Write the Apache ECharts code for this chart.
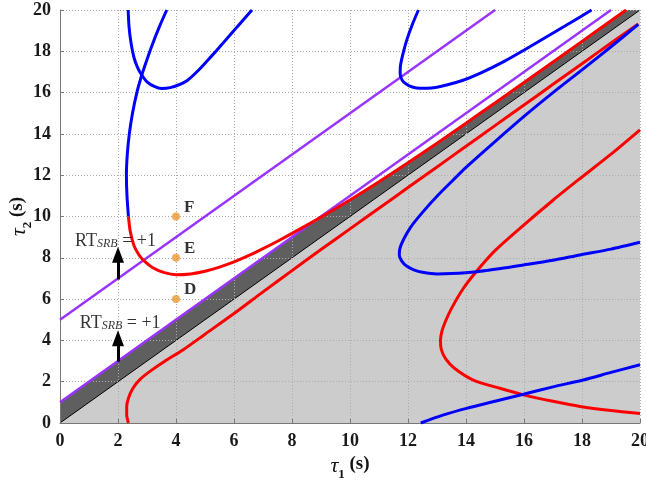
<!DOCTYPE html>
<html><head><meta charset="utf-8">
<script src="https://cdn.jsdelivr.net/npm/echarts@6/dist/echarts.min.js"></script>
<style>html,body{margin:0;padding:0;background:#fff}#c{width:646px;height:480px}</style>
</head><body><div id="c"></div>
<script>
// ---------- data (tau1, tau2) ----------
const xTickValues = [0,2,4,6,8,10,12,14,16,18,20];
const yTickValues = [0,2,4,6,8,10,12,14,16,18,20];
const blueCurveA = [[2.35,20],[2.38,19.2],[2.45,18.4],[2.55,17.7],[2.68,17.2],[2.82,16.85],[3.0,16.52],[3.25,16.3],[3.5,16.2],[3.8,16.24],[4.1,16.38],[4.4,16.6],[4.8,17.12],[5.2,17.73],[5.6,18.36],[6.1,19.17],[6.62,20]];
const blueCurveB = [[3.68,20],[3.4,19.1],[3.15,18.2],[2.95,17.4],[2.82,16.85],[2.65,16.0],[2.5,15],[2.39,14],[2.32,13],[2.29,12],[2.31,11],[2.36,10]];
const redCurveU = [[2.36,10],[2.42,9.3],[2.55,8.6],[2.72,8.15],[2.9,7.85],[3.2,7.52],[3.6,7.28],[4.0,7.18],[4.5,7.22],[5.0,7.35],[5.5,7.55],[6.0,7.8],[6.5,8.1],[7.0,8.44],[7.5,8.8],[8.0,9.18],[8.5,9.57],[9.0,9.97],[10,10.8],[11,11.68],[12,12.6],[13,13.55],[14,14.52],[15,15.5],[16,16.49],[17,17.48],[18,18.48],[19,19.48],[19.52,20]];
const redCurveLow = [[2.36,0],[2.3,0.4],[2.3,0.8],[2.36,1.2],[2.5,1.65],[2.75,2.1],[3.1,2.5],[3.6,2.98],[4.25,3.55],[5.0,4.3],[6.0,5.3],[7.0,6.35],[8.0,7.38],[9.0,8.4],[10,9.4],[11,10.4],[12,11.4],[13,12.4],[14,13.4],[15,14.4],[16,15.4],[17,16.4],[18,17.4],[19,18.4],[19.94,19.32]];
const blueCurveTopRight = [[12.36,20],[12.15,19.3],[11.97,18.6],[11.83,17.9],[11.74,17.3],[11.73,16.9],[11.8,16.6],[11.95,16.4],[12.15,16.27],[12.41,16.21],[12.8,16.22],[13.33,16.37],[13.9,16.6],[14.48,16.93],[15.3,17.5],[16.2,18.22],[16.9,18.8],[17.6,19.38],[18.33,20]];
const blueCurveD = [[19.94,19.3],[19,18.22],[18,17.1],[17,16.0],[16,14.85],[15,13.63],[14,12.38],[13.56,11.77],[13.0,10.98],[12.5,10.2],[12.1,9.5],[11.85,8.9],[11.72,8.45],[11.7,8.14],[11.78,7.85],[11.95,7.6],[12.2,7.42],[12.5,7.3],[13.0,7.22],[13.5,7.24],[14.37,7.33],[15.2,7.48],[15.98,7.65],[17,7.88],[17.93,8.14],[19,8.42],[20,8.75]];
const redCurveE = [[20,14.2],[19,13.02],[17.87,11.77],[17.01,10.8],[15.86,9.43],[15,8.35],[14.37,7.36],[13.9,6.5],[13.5,5.55],[13.3,4.95],[13.17,4.45],[13.12,4.0],[13.15,3.55],[13.3,3.1],[13.6,2.65],[14.25,2.08],[15.17,1.68],[15.98,1.36],[17,1.05],[17.93,0.8],[19,0.6],[20,0.46]];
const blueCurveF = [[12.44,0],[13.2,0.38],[14.02,0.71],[15.0,1.05],[15.98,1.39],[17,1.75],[18.04,2.08],[19,2.45],[20,2.82]];
const purpleUpper = [[0,5],[15,20]];
const purpleLower = [[0,1],[19,20]];
const diagonalLine = [[0,0],[20,20]];
const pointLabels = ['D','E','F'];
const pointTau1 = [4,4,4];
const pointTau2 = [6,8,10];

// ---------- derived: dark band upper edge = min(purpleLower, redCurveU) ----------
function purpleAt(x){ const a=purpleLower[0], b=purpleLower[1]; return a[1]+(b[1]-a[1])*(x-a[0])/(b[0]-a[0]); }
const darkEdge = [purpleLower[0]];
for (let i=1;i<redCurveU.length;i++){
  const p=redCurveU[i-1], q=redCurveU[i];
  const dp=p[1]-purpleAt(p[0]), dq=q[1]-purpleAt(q[0]);
  if (p[0]>5 && dp>=0 && dq<0){ const t=dp/(dp-dq); darkEdge.push([p[0]+t*(q[0]-p[0]), p[1]+t*(q[1]-p[1])]); }
  if (q[0]>5 && dq<0) darkEdge.push(q);
}
darkEdge.push([20,20]);

const SERIF = '"Liberation Serif","DejaVu Serif","Times New Roman",serif';
const BLUE='#0000FF', RED='#FF0000', PURPLE='#9933FF', ORANGE='#EE9933';

function curve(data,color,width,z){
  return {type:'line',data:data,showSymbol:false,symbol:'none',smooth:0.25,z:z||4,
    lineStyle:{color:color,width:width},silent:true,animation:false};
}
const rtRich = {
  a:{fontFamily:SERIF,fontSize:18,color:'#000',lineHeight:20,verticalAlign:'bottom'},
  b:{fontFamily:SERIF,fontSize:12,fontStyle:'italic',color:'#000',lineHeight:12,verticalAlign:'bottom'}
};
const nameRich = {
  t:{fontFamily:SERIF,fontSize:22,fontStyle:'italic',color:'#111',lineHeight:22,verticalAlign:'top'},
  s:{fontFamily:SERIF,fontSize:13,fontWeight:'bold',color:'#111',lineHeight:14,padding:[13,0,0,0],verticalAlign:'top'},
  n:{fontFamily:SERIF,fontSize:19,fontWeight:'bold',color:'#111',lineHeight:22,verticalAlign:'top'}
};
function axisCfg(ticks, nameText, nameGap, moveOverlap){
  return {type:'value',min:ticks[0],max:ticks[ticks.length-1],interval:ticks[1]-ticks[0],z:3,
    name:nameText,nameLocation:'middle',nameGap:nameGap,nameMoveOverlap:moveOverlap,nameTextStyle:{rich:nameRich},
    axisLine:{show:true,onZero:false,lineStyle:{color:'#777',width:1}},
    axisTick:{show:true,inside:true,length:4,lineStyle:{color:'#777'}},
    axisLabel:{fontFamily:SERIF,fontWeight:'bold',fontSize:18,color:'#1a1a1a',margin:9},
    splitLine:{show:true,lineStyle:{color:'#aaa',width:1,type:[1,2]}}};
}

const chart = echarts.init(document.getElementById('c'), null, {renderer:'canvas'});
chart.setOption({
  animation:false,
  backgroundColor:'#fff',
  grid:{left:60,right:6,top:10,bottom:57,containLabel:false,outerBoundsMode:'none'},
  xAxis:axisCfg(xTickValues,'{t|τ}{s|1}{n| (s)}',28,true),
  yAxis:axisCfg(yTickValues,'{t|τ}{s|2}{n| (s)}',30,false),
  series:[
    {type:'line',data:darkEdge,showSymbol:false,symbol:'none',z:1,silent:true,
     lineStyle:{width:0},areaStyle:{color:'#5f5f5f',opacity:1}},
    {type:'line',data:diagonalLine,showSymbol:false,symbol:'none',z:2,silent:true,
     lineStyle:{width:1,color:'#000'},areaStyle:{color:'#cccccc',opacity:1}},
    curve(purpleUpper,PURPLE,2.5,4),
    curve(purpleLower,PURPLE,2.5,4),
    curve(redCurveLow,RED,3,4),
    curve(redCurveE,RED,3,4),
    curve(redCurveU,RED,3,4),
    curve(blueCurveD,BLUE,3,5),
    curve(blueCurveF,BLUE,3,5),
    curve(blueCurveA,BLUE,3,5),
    curve(blueCurveB,BLUE,3,5),
    curve(blueCurveTopRight,BLUE,3,5),
    {type:'scatter',z:6,silent:true,symbol:'circle',symbolSize:8,itemStyle:{color:ORANGE},
     data:pointLabels.map((n,i)=>({value:[pointTau1[i],pointTau2[i]],name:n})),
     label:{show:true,position:'right',distance:4,offset:[0,-9],formatter:p=>p.name,
       fontFamily:SERIF,fontWeight:'bold',fontSize:17,color:'#000'}},
    {type:'scatter',z:6,silent:true,symbolSize:0,
     data:[[0.52,8.86],[0.68,4.9]],
     label:{show:true,position:'right',distance:0,formatter:'{a|RT}{b|SRB}{a| = +1}',rich:rtRich}},
    {type:'line',data:[],z:6,silent:true,
     markLine:{silent:true,animation:false,symbol:['none','triangle'],symbolSize:[12,16],
       lineStyle:{color:'#000',width:3,type:'solid'},label:{show:false},
       data:[[{coord:[2,6.95]},{coord:[2,8.15]}],[{coord:[2,2.97]},{coord:[2,4.1]}]]}}
  ]
});
</script></body></html>
